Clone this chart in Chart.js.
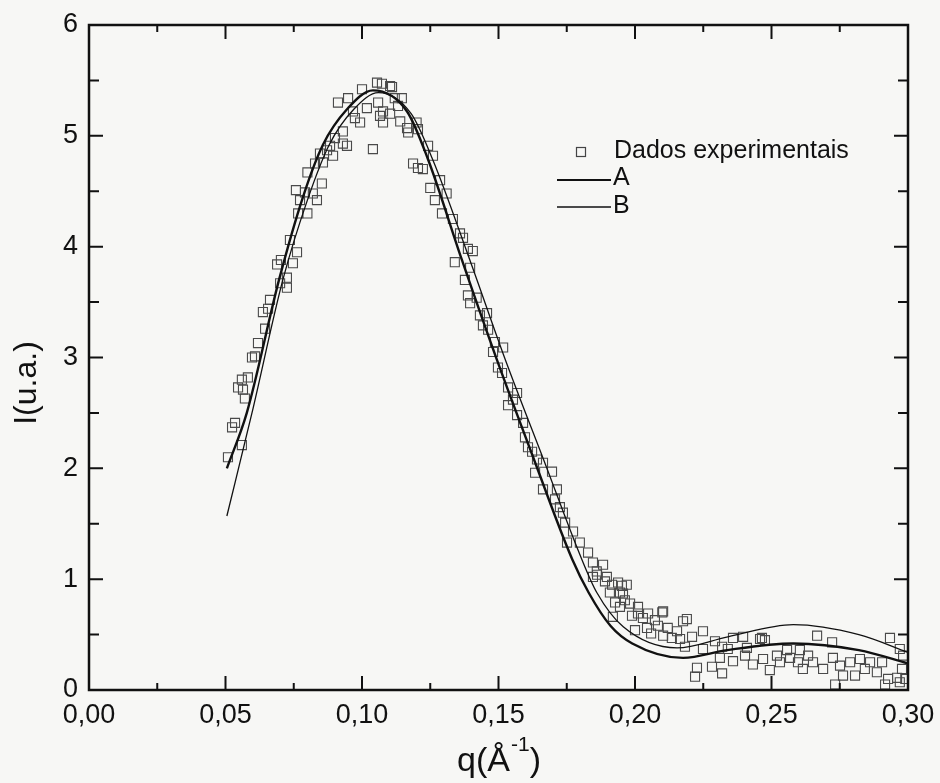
<!DOCTYPE html>
<html>
<head>
<meta charset="utf-8">
<script src="https://cdn.jsdelivr.net/npm/chart.js@4.4.1/dist/chart.umd.min.js"></script>
<style>
  html, body { margin: 0; padding: 0; background: #f7f7f5; }
</style>
</head>
<body>
<canvas id="saxsChart" width="940" height="783"></canvas>
<script>
// pontos experimentais (q em 1/A, I em u.a.)
const qExp = [
  0.0509, 0.0524, 0.0535, 0.0560, 0.0546, 0.0564, 0.0571, 0.0582, 0.0560, 0.0597,
  0.0608, 0.0619, 0.0645, 0.0637, 0.0656, 0.0663, 0.0700, 0.0725, 0.0689, 0.0703,
  0.0725, 0.0747, 0.0762, 0.0736, 0.0800, 0.0766, 0.0773, 0.0835, 0.0758, 0.0791,
  0.0820, 0.0853, 0.0800, 0.0828, 0.0857, 0.0846, 0.0872, 0.0894, 0.0883, 0.0901,
  0.0930, 0.0930, 0.0945, 0.0912, 0.0949, 0.0967, 0.0974, 0.0993, 0.1000, 0.1018,
  0.1040, 0.1055, 0.1073, 0.1103, 0.1110, 0.1059, 0.1077, 0.1066, 0.1103, 0.1077,
  0.1120, 0.1146, 0.1132, 0.1140, 0.1165, 0.1200, 0.1205, 0.1169, 0.1187, 0.1205,
  0.1223, 0.1242, 0.1260, 0.1250, 0.1267, 0.1286, 0.1310, 0.1293, 0.1333, 0.1359,
  0.1370, 0.1388, 0.1406, 0.1340, 0.1396, 0.1377, 0.1388, 0.1420, 0.1396, 0.1432,
  0.1458, 0.1443, 0.1462, 0.1487, 0.1517, 0.1480, 0.1498, 0.1513, 0.1535, 0.1568,
  0.1535, 0.1553, 0.1568, 0.1590, 0.1597, 0.1608, 0.1623, 0.1641, 0.1663, 0.1696,
  0.1634, 0.1663, 0.1714, 0.1707, 0.1725, 0.1736, 0.1744, 0.1773, 0.1798, 0.1751,
  0.1828, 0.1846, 0.1883, 0.1861, 0.1897, 0.1938, 0.1970, 0.1860, 0.1846, 0.1890,
  0.1916, 0.1952, 0.1945, 0.1908, 0.1956, 0.1927, 0.1963, 0.1945, 0.1982, 0.2011,
  0.2048, 0.2011, 0.2103, 0.1989, 0.2029, 0.2073, 0.2190, 0.1919, 0.2000, 0.2044,
  0.2084, 0.2120, 0.2154, 0.2059, 0.2103, 0.2135, 0.2165, 0.2209, 0.2249, 0.2293,
  0.2359, 0.2396, 0.2465, 0.2476, 0.2183, 0.2249, 0.2319, 0.2340, 0.2227, 0.2220,
  0.2282, 0.2319, 0.2311, 0.2359, 0.2403, 0.2432, 0.2469, 0.2494, 0.2520, 0.2531,
  0.2568, 0.2597, 0.2615, 0.2634, 0.2652, 0.2667, 0.2689, 0.2722, 0.2725, 0.2751,
  0.2733, 0.2762, 0.2806, 0.2788, 0.2824, 0.2842, 0.2861, 0.2886, 0.2905, 0.2934,
  0.2927, 0.2960, 0.2970, 0.2978, 0.2982, 0.2990, 0.2458, 0.2604, 0.2557, 0.2410,
  0.2100, 0.2176, 0.2916, 0.2970
];
const iExp = [
  2.10, 2.37, 2.41, 2.21, 2.73, 2.71, 2.63, 2.82, 2.80, 3.00,
  3.01, 3.13, 3.26, 3.41, 3.44, 3.52, 3.67, 3.63, 3.84, 3.88,
  3.72, 3.85, 3.95, 4.06, 4.30, 4.30, 4.42, 4.42, 4.51, 4.49,
  4.48, 4.57, 4.67, 4.75, 4.76, 4.84, 4.87, 4.82, 4.91, 4.98,
  5.04, 4.93, 4.91, 5.30, 5.34, 5.22, 5.16, 5.12, 5.42, 5.25,
  4.88, 5.48, 5.47, 5.45, 5.44, 5.30, 5.22, 5.18, 5.20, 5.12,
  5.34, 5.34, 5.27, 5.13, 5.07, 5.12, 5.06, 5.03, 4.75, 4.71,
  4.70, 4.91, 4.82, 4.53, 4.42, 4.60, 4.48, 4.30, 4.25, 4.12,
  4.08, 3.98, 3.96, 3.86, 3.81, 3.70, 3.56, 3.54, 3.49, 3.38,
  3.40, 3.29, 3.25, 3.14, 3.09, 3.05, 2.91, 2.86, 2.73, 2.68,
  2.57, 2.62, 2.48, 2.41, 2.28, 2.19, 2.15, 2.08, 2.05, 1.97,
  1.96, 1.81, 1.81, 1.72, 1.65, 1.60, 1.51, 1.43, 1.33, 1.33,
  1.24, 1.15, 1.13, 1.04, 1.02, 0.97, 0.95, 1.07, 1.02, 0.98,
  0.95, 0.94, 0.88, 0.88, 0.87, 0.79, 0.81, 0.75, 0.78, 0.75,
  0.69, 0.69, 0.71, 0.67, 0.65, 0.63, 0.64, 0.66, 0.54, 0.56,
  0.58, 0.56, 0.53, 0.51, 0.49, 0.47, 0.46, 0.48, 0.53, 0.44,
  0.47, 0.48, 0.47, 0.45, 0.39, 0.37, 0.39, 0.37, 0.20, 0.12,
  0.21, 0.15, 0.29, 0.26, 0.31, 0.23, 0.28, 0.18, 0.31, 0.25,
  0.29, 0.25, 0.19, 0.31, 0.25, 0.49, 0.19, 0.43, 0.29, 0.22,
  0.05, 0.13, 0.13, 0.25, 0.28, 0.19, 0.25, 0.16, 0.25, 0.47,
  0.10, 0.11, 0.37, 0.19, 0.31, 0.10, 0.46, 0.36, 0.36, 0.38,
  0.70, 0.62, 0.05, 0.07
];

// curvas ajustadas
const qFitA = [0.0505, 0.0578, 0.0696, 0.0784, 0.0857, 0.0945, 0.104, 0.1165, 0.124, 0.1366,
  0.1494, 0.163, 0.177, 0.183, 0.191, 0.199, 0.2176, 0.2337, 0.258, 0.282, 0.300];
const iFitA = [2.00, 2.50, 3.70, 4.45, 4.92, 5.24, 5.41, 5.22, 4.80, 3.88,
  2.98, 2.08, 1.18, 0.88, 0.58, 0.42, 0.29, 0.36, 0.42, 0.36, 0.24];
const qFitB = [0.0505, 0.0597, 0.071, 0.080, 0.088, 0.097, 0.106, 0.118, 0.126, 0.1395,
  0.1525, 0.1665, 0.1805, 0.186, 0.1957, 0.2154, 0.234, 0.258, 0.282, 0.300];
const iFitB = [1.57, 2.50, 3.70, 4.42, 4.92, 5.24, 5.39, 5.20, 4.78, 3.88,
  2.98, 2.08, 1.18, 0.88, 0.57, 0.38, 0.48, 0.59, 0.50, 0.34];

const xTickVals = [0, 0.05, 0.10, 0.15, 0.20, 0.25, 0.30];
const xTickLabels = ['0,00', '0,05', '0,10', '0,15', '0,20', '0,25', '0,30'];
const yTickVals = [0, 1, 2, 3, 4, 5, 6];
const yTickLabels = ['0', '1', '2', '3', '4', '5', '6'];
const seriesNames = ['Dados experimentais', 'A', 'B'];

const FONT = '"Liberation Sans", Arial, Helvetica, sans-serif';
const INK = '#111';

// moldura com ticks para dentro, titulos dos eixos e legenda
const frameAndLabels = {
  id: 'frameAndLabels',
  afterDraw(chart) {
    const { ctx, chartArea: a, scales: { x, y } } = chart;
    ctx.save();
    ctx.strokeStyle = INK;
    ctx.lineWidth = 2.5;
    ctx.strokeRect(a.left, a.top, a.right - a.left, a.bottom - a.top);

    ctx.lineWidth = 2;
    ctx.beginPath();
    xTickVals.forEach((v, i) => {
      const px = x.getPixelForValue(v);
      ctx.moveTo(px, a.bottom); ctx.lineTo(px, a.bottom - 14);
      ctx.moveTo(px, a.top); ctx.lineTo(px, a.top + 14);
      if (i < xTickVals.length - 1) {
        const pm = x.getPixelForValue((v + xTickVals[i + 1]) / 2);
        ctx.moveTo(pm, a.bottom); ctx.lineTo(pm, a.bottom - 7);
        ctx.moveTo(pm, a.top); ctx.lineTo(pm, a.top + 7);
      }
    });
    yTickVals.forEach((v, i) => {
      const py = y.getPixelForValue(v);
      ctx.moveTo(a.left, py); ctx.lineTo(a.left + 14, py);
      ctx.moveTo(a.right, py); ctx.lineTo(a.right - 14, py);
      if (i < yTickVals.length - 1) {
        const pm = y.getPixelForValue((v + yTickVals[i + 1]) / 2);
        ctx.moveTo(a.left, pm); ctx.lineTo(a.left + 10, pm);
        ctx.moveTo(a.right, pm); ctx.lineTo(a.right - 10, pm);
      }
    });
    ctx.stroke();

    // titulo eixo x: q(Å^-1)
    ctx.fillStyle = INK;
    ctx.textBaseline = 'alphabetic';
    ctx.textAlign = 'left';
    const big = '34px ' + FONT, small = '21px ' + FONT;
    ctx.font = big;
    const w1 = ctx.measureText('q(Å').width;
    const w3 = ctx.measureText(')').width;
    ctx.font = small;
    const w2 = ctx.measureText('-1').width;
    let tx = (a.left + a.right) / 2 - (w1 + w2 + w3) / 2;
    const base = 771;
    ctx.font = big; ctx.fillText('q(Å', tx, base); tx += w1 + 1;
    ctx.font = small; ctx.fillText('-1', tx, base - 20); tx += w2;
    ctx.font = big; ctx.fillText(')', tx, base);

    // titulo eixo y
    ctx.save();
    ctx.translate(27, 383);
    ctx.rotate(-Math.PI / 2);
    ctx.textAlign = 'center';
    ctx.textBaseline = 'middle';
    ctx.font = '32px ' + FONT;
    ctx.fillText('I(u.a.)', 0, 0);
    ctx.restore();

    // legenda
    ctx.font = '25px ' + FONT;
    ctx.textBaseline = 'middle';
    ctx.textAlign = 'left';
    ctx.strokeStyle = '#444';
    ctx.lineWidth = 1.2;
    ctx.strokeRect(576.5, 147.5, 9, 9);
    ctx.fillText(seriesNames[0], 614, 151);
    ctx.strokeStyle = INK;
    ctx.lineWidth = 2.2;
    ctx.beginPath(); ctx.moveTo(557, 180); ctx.lineTo(611, 180); ctx.stroke();
    ctx.lineWidth = 1.4;
    ctx.beginPath(); ctx.moveTo(557, 207); ctx.lineTo(611, 207); ctx.stroke();
    ctx.fillText(seriesNames[1], 613, 178);
    ctx.fillText(seriesNames[2], 613, 206);
    ctx.restore();
  }
};

const toPoints = (qs, is) => qs.map((q, i) => ({ x: q, y: is[i] }));

new Chart(document.getElementById('saxsChart'), {
  type: 'scatter',
  data: {
    datasets: [
      {
        label: seriesNames[1],
        data: toPoints(qFitA, iFitA),
        showLine: true,
        borderColor: INK,
        borderWidth: 2.4,
        pointRadius: 0,
        cubicInterpolationMode: 'monotone',
        order: 0
      },
      {
        label: seriesNames[2],
        data: toPoints(qFitB, iFitB),
        showLine: true,
        borderColor: INK,
        borderWidth: 1.3,
        pointRadius: 0,
        cubicInterpolationMode: 'monotone',
        order: 1
      },
      {
        label: seriesNames[0],
        data: toPoints(qExp, iExp),
        pointStyle: 'rect',
        pointRadius: 6.4,
        pointBorderWidth: 1.1,
        pointBorderColor: '#4a4a4a',
        pointBackgroundColor: 'rgba(0,0,0,0)',
        order: 2
      }
    ]
  },
  options: {
    responsive: false,
    animation: false,
    events: [],
    layout: { padding: { left: 0, top: 25, right: 32, bottom: 0 } },
    plugins: {
      legend: { display: false },
      tooltip: { enabled: false }
    },
    scales: {
      x: {
        type: 'linear',
        min: 0,
        max: 0.3,
        afterBuildTicks: s => { s.ticks = xTickVals.map(v => ({ value: v })); },
        afterFit: s => { s.height = 93; s.paddingLeft = 0; s.paddingRight = 0; },
        ticks: {
          callback: (v, i) => xTickLabels[i],
          font: { family: FONT, size: 27 },
          color: INK,
          padding: 9,
          maxRotation: 0,
          autoSkip: false
        },
        grid: { display: false, drawTicks: false },
        border: { display: false }
      },
      y: {
        min: 0,
        max: 6,
        afterBuildTicks: s => { s.ticks = yTickVals.map(v => ({ value: v })); },
        afterFit: s => { s.width = 89; s.paddingTop = 0; s.paddingBottom = 0; },
        ticks: {
          callback: (v, i) => yTickLabels[i],
          font: { family: FONT, size: 27 },
          color: INK,
          padding: 11
        },
        grid: { display: false, drawTicks: false },
        border: { display: false }
      }
    }
  },
  plugins: [frameAndLabels]
});
</script>
</body>
</html>
